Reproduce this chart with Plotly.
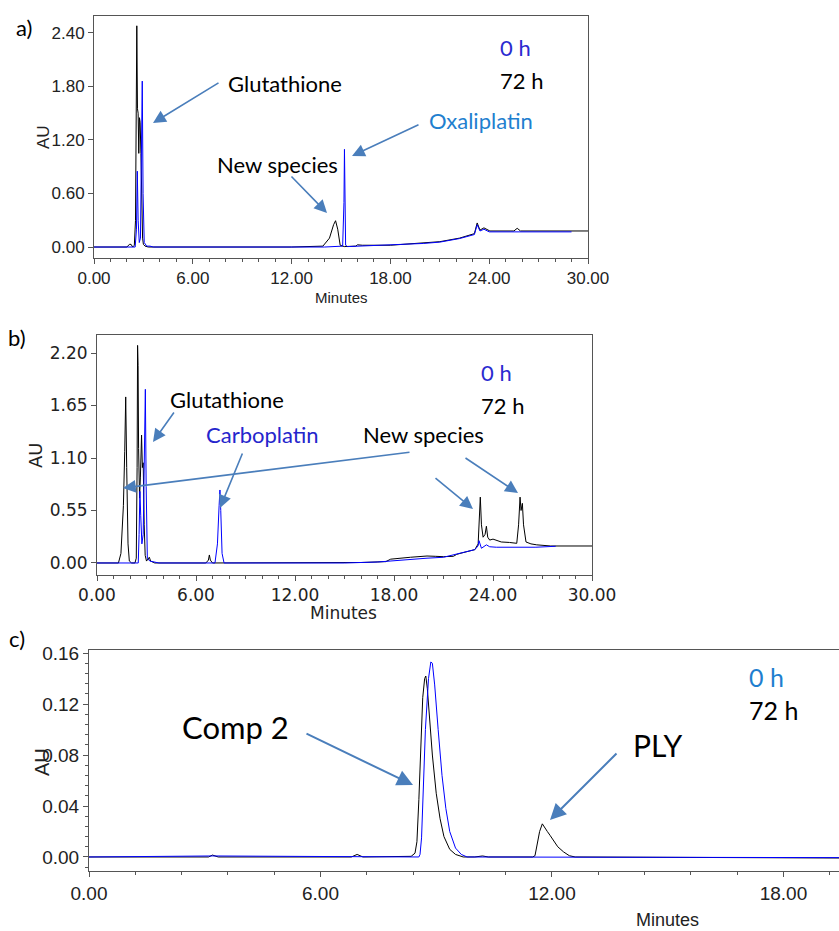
import plotly.graph_objects as go

W, H = 839, 931

# ---------------- Panel a (oxaliplatin + glutathione) ----------------
a_t_72 = [0, 2.0, 2.15, 2.25, 2.35, 2.45, 2.52, 2.56, 2.6, 2.64, 2.68, 2.72, 2.76, 2.8, 2.85, 2.9, 2.95,
          3.0, 3.1, 3.3, 12.0, 13.9, 14.3, 14.55, 14.67, 14.8, 14.95, 15.2, 15.9, 16.0, 16.3, 18.0,
          20.0, 21.0, 22.2, 23.1, 23.27, 23.44, 23.68, 24.04, 25.5, 25.7, 25.9, 30.0]
a_v_72 = [0, 0, 0.03, 0.03, 0, 0.02, 0.3, 2.3, 2.48, 1.55, 1.5, 1.05, 1.45, 1.4, 1.05, 0.4, 0.1,
          0.03, 0.01, 0, 0, 0.01, 0.1, 0.25, 0.295, 0.2, 0.02, 0.005, 0.01, 0.025, 0.02, 0.02,
          0.045, 0.06, 0.1, 0.15, 0.27, 0.19, 0.215, 0.18, 0.18, 0.21, 0.18, 0.18]
a_t_0 = [0, 2.3, 2.5, 2.58, 2.63, 2.68, 2.75, 2.82, 2.88, 2.93, 2.98, 3.05, 3.2, 3.4, 3.6, 12.0,
         14.0, 15.1, 15.18, 15.21, 15.24, 15.28, 15.4, 16.0, 18.0, 20.0, 21.0, 22.2, 23.1, 23.27,
         23.44, 23.68, 24.0, 25.5, 29.0]
a_v_0 = [0, 0, 0, 0.2, 0.85, 0.3, 0.05, 0.1, 1.2, 1.86, 0.6, 0.05, 0.01, 0.01, 0, 0,
         0, 0.01, 0.5, 1.095, 0.6, 0.02, 0.005, 0.01, 0.02, 0.04, 0.055, 0.095, 0.14, 0.25,
         0.18, 0.2, 0.17, 0.17, 0.17]

# ---------------- Panel b (carboplatin + glutathione) ----------------
b_t_72 = [0, 1.3, 1.45, 1.6, 1.68, 1.74, 1.8, 1.88, 1.96, 2.1, 2.3, 2.38, 2.43, 2.46, 2.49, 2.52,
          2.58, 2.63, 2.7, 2.75, 2.8, 2.86, 2.92, 3.0, 3.1, 3.17, 3.25, 3.5, 6.6, 6.75, 6.81, 6.87,
          7.0, 14.3, 16.0, 17.5, 17.8, 19.0, 20.0, 20.5, 21.0, 21.6, 21.8, 22.0, 22.5, 22.9, 23.1,
          23.18, 23.23, 23.3, 23.4, 23.52, 23.6, 23.68, 23.8, 24.0, 24.5, 25.0, 25.44, 25.55,
          25.64, 25.7, 25.78, 25.85, 26.0, 26.3, 26.65, 27.5, 30.0]
b_v_72 = [0, 0, 0.1, 0.6, 1.17, 1.74, 1.0, 0.2, 0.02, 0, 0, 0.05, 1.0, 2.28, 2.07, 1.2,
          0.68, 0.9, 1.34, 1.0, 1.05, 0.4, 0.08, 0.02, 0.04, 0.06, 0.02, 0, 0, 0.03, 0.084, 0.03,
          0, 0, 0.005, 0.014, 0.04, 0.06, 0.073, 0.07, 0.066, 0.07, 0.09, 0.10, 0.12, 0.14, 0.2,
          0.5, 0.69, 0.4, 0.27, 0.3, 0.385, 0.27, 0.24, 0.25, 0.22, 0.215, 0.206, 0.4,
          0.69, 0.55, 0.625, 0.4, 0.22, 0.2, 0.19, 0.178, 0.178]
b_t_0 = [0, 2.5, 2.55, 2.6, 2.65, 2.72, 2.8, 2.88, 2.93, 2.98, 3.05, 3.2, 3.5, 3.75, 7.15, 7.3,
         7.4, 7.45, 7.5, 7.58, 7.7, 9.0, 15.0, 17.0, 18.0, 19.0, 20.0, 21.0, 22.0, 22.9, 23.1,
         23.15, 23.3, 23.45, 23.6, 23.8, 24.2, 26.6, 27.8]
b_v_0 = [0, 0, 0.3, 0.75, 0.5, 0.2, 0.3, 1.0, 1.82, 0.8, 0.05, 0.02, 0.01, 0, 0, 0.2,
         0.6, 0.765, 0.55, 0.1, 0, 0, 0, 0.01, 0.025, 0.04, 0.05, 0.06, 0.1, 0.14, 0.18,
         0.234, 0.154, 0.17, 0.19, 0.17, 0.165, 0.165, 0.175]

# ---------------- Panel c (Comp 2 -> PLY) ----------------
c_t_72 = [0, 3.1, 3.2, 3.35, 6.8, 6.95, 7.1, 8.35, 8.45, 8.5, 8.55, 8.6, 8.65, 8.7, 8.73, 8.77,
          8.82, 8.9, 9.0, 9.1, 9.2, 9.35, 9.5, 9.7, 10.0, 10.2, 10.35, 11.5, 11.56, 11.62, 11.68,
          11.75, 11.8, 11.88, 11.95, 12.05, 12.15, 12.3, 12.45, 12.6, 19.44]
c_v_72 = [0, 0, 0.0015, 0, 0, 0.002, 0, 0.0005, 0.003, 0.012, 0.045, 0.09, 0.125, 0.14, 0.142,
          0.132, 0.11, 0.08, 0.05, 0.03, 0.016, 0.006, 0.002, 0, 0, 0.0008, 0, 0, 0.001, 0.01,
          0.02, 0.026, 0.024, 0.02, 0.017, 0.012, 0.008, 0.004, 0.001, 0, -0.0008]
c_t_0 = [0, 3.2, 8.55, 8.58, 8.62, 8.66, 8.72, 8.8, 8.86, 8.9, 8.96, 9.05, 9.15, 9.25, 9.35, 9.5,
         9.65, 9.8, 19.44]
c_v_0 = [0, 0.0008, 0, 0.002, 0.015, 0.05, 0.1, 0.14, 0.153, 0.152, 0.135, 0.1, 0.064, 0.038,
         0.02, 0.007, 0.002, 0, -0.0005]

BLUE = '#0000ff'
BLACK = '#000000'
ARROW = '#4a7ebb'
AXC = '#555555'


def px(x):
    return x / W


def py(y):
    return 1 - y / H


fig = go.Figure()
for (t0, v0, t72, v72, xa, ya) in [
    (a_t_0, a_v_0, a_t_72, a_v_72, 'x', 'y'),
    (b_t_0, b_v_0, b_t_72, b_v_72, 'x2', 'y2'),
    (c_t_0, c_v_0, c_t_72, c_v_72, 'x3', 'y3'),
]:
    fig.add_trace(go.Scatter(x=t72, y=v72, mode='lines', xaxis=xa, yaxis=ya,
                             line=dict(color=BLACK, width=1), name='72 h'))
    fig.add_trace(go.Scatter(x=t0, y=v0, mode='lines', xaxis=xa, yaxis=ya,
                             line=dict(color=BLUE, width=1), name='0 h'))


def axis(**kw):
    d = dict(showline=True, linecolor=AXC, linewidth=1, ticks='outside', ticklen=5,
             tickcolor=AXC, showgrid=False, zeroline=False, tickmode='linear',
             tickformat='.2f', automargin=False)
    d.update(kw)
    return d


font_a = dict(family='Liberation Sans, Arial', size=17, color='#222')
font_b = dict(family='DejaVu Sans', size=17, color='#222')
font_c = dict(family='Liberation Sans, Arial', size=19, color='#222')

fig.update_layout(
    width=W, height=H, margin=dict(l=0, r=0, t=0, b=0, pad=0, autoexpand=False),
    paper_bgcolor='white', plot_bgcolor='white', showlegend=False,
    xaxis=axis(domain=[px(94), px(588)], range=[0, 30], tick0=0, dtick=6, anchor='y', mirror=True,
               tickfont=font_a, minor=dict(dtick=1, ticks='outside', ticklen=3, tickcolor=AXC)),
    yaxis=axis(domain=[py(258), py(16)], range=[-0.123, 2.59], tick0=0, dtick=0.6, anchor='x',
               mirror=True, tickfont=font_a),
    xaxis2=axis(domain=[px(97), px(592)], range=[0, 30], tick0=0, dtick=6, anchor='y2', mirror=True,
                tickfont=font_b, minor=dict(dtick=1, ticks='outside', ticklen=3, tickcolor=AXC)),
    yaxis2=axis(domain=[py(575), py(335)], range=[-0.126, 2.389], tick0=0, dtick=0.55, anchor='x2',
                mirror=True, tickfont=font_b),
    xaxis3=axis(domain=[px(89), 1.0], range=[0, 19.44], tick0=0, dtick=6, anchor='y3', mirror=True,
                tickfont=font_c, minor=dict(dtick=1.2, ticks='outside', ticklen=3, tickcolor=AXC)),
    yaxis3=axis(domain=[py(871), py(650)], range=[-0.011, 0.1624], tick0=0, dtick=0.04, anchor='x3',
                tickfont=font_c, minor=dict(dtick=0.008, ticks='outside', ticklen=3, tickcolor=AXC)),
)

ann = []


def text(s, x, y, size, color='#000', family='Lato', xanchor='center', angle=0):
    ann.append(dict(text=s, x=px(x), y=py(y), xref='paper', yref='paper', showarrow=False,
                    xanchor=xanchor, yanchor='middle', textangle=angle,
                    font=dict(family=family, size=size, color=color)))


def arrow(tx, ty, hx, hy, w=1.6):
    ann.append(dict(text='', x=px(hx), y=py(hy), xref='paper', yref='paper', showarrow=True,
                    ax=tx - hx, ay=ty - hy, arrowcolor=ARROW, arrowwidth=w, arrowhead=2,
                    arrowsize=1.6, standoff=0))


# panel labels
text('a)', 24, 27, 22)
text('b)', 17, 337, 22)
text('c)', 17, 638, 22)

# axis titles
text('AU', 43, 137, 17, '#222', 'Liberation Sans, Arial', angle=-90)
text('AU', 35, 455, 18, '#222', 'DejaVu Sans', angle=-90)
text('AU', 42, 762, 20, '#222', 'Liberation Sans, Arial', angle=-90)
text('Minutes', 341, 297, 15, '#222', 'Liberation Sans, Arial')
text('Minutes', 343, 613, 17, '#222', 'DejaVu Sans')
text('Minutes', 667, 920, 18, '#222', 'Liberation Sans, Arial')

# panel a
text('Glutathione', 285, 83, 22)
text('New species', 277, 164, 22)
text('Oxaliplatin', 481, 121, 22, '#1f7fcf')
text('0 h', 498, 48, 22, '#2b2bd0', xanchor='left')
text('72 h', 498, 80, 22, '#000', xanchor='left')
arrow(220, 82, 153, 123)
arrow(290, 175, 327, 213)
arrow(420, 124, 352, 156)

# panel b
text('Glutathione', 227, 399, 22)
text('Carboplatin', 262, 434, 22, '#2525cc')
text('New species', 423, 434, 22)
text('0 h', 479, 373, 22, '#2b2bd0', xanchor='left')
text('72 h', 479, 405, 22, '#000', xanchor='left')
arrow(175, 411, 153, 442)
arrow(243, 452, 220, 508)
arrow(411, 452, 123, 488)
arrow(434, 477, 473, 509)
arrow(464, 457, 518, 493)

# panel c
text('Comp 2', 235, 727, 31)
text('PLY', 658, 745, 30)
text('0 h', 747, 677, 25, '#1f7fcf', xanchor='left')
text('72 h', 747, 710, 25, '#000', xanchor='left')
arrow(305, 733, 413, 785, 2)
arrow(618, 752, 550, 820, 2)

fig.update_layout(annotations=ann)
fig.write_html('out.html')
